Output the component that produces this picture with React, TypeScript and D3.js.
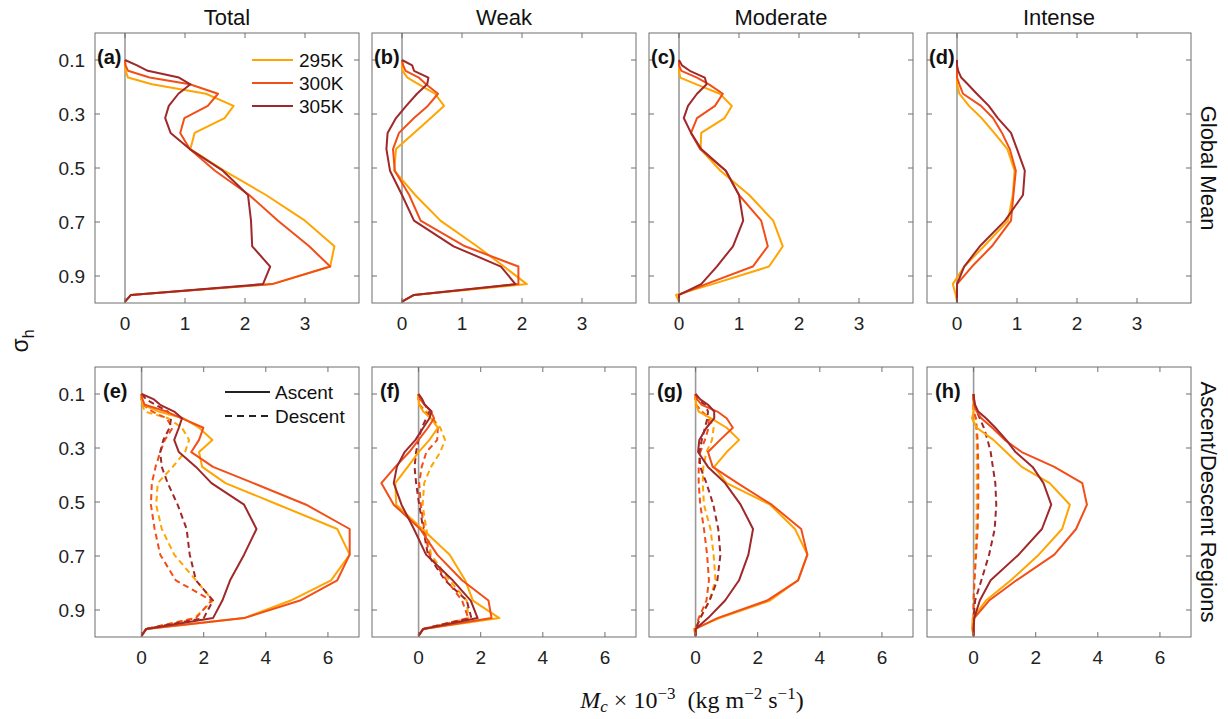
import React from 'react';
import * as d3 from 'd3';

// vertical levels (sigma_h) shared by every profile
const sigma = [0.10, 0.12, 0.14, 0.165, 0.19, 0.225, 0.27, 0.315, 0.37, 0.43, 0.51, 0.60, 0.695, 0.79, 0.865, 0.93, 0.97, 0.995];

const columnTitles = ['Total', 'Weak', 'Moderate', 'Intense'];
const rowTitles = ['Global Mean', 'Ascent/Descent Regions'];
const panelLetters = ['(a)', '(b)', '(c)', '(d)', '(e)', '(f)', '(g)', '(h)'];
const sstLabels = ['295K', '300K', '305K'];
const regimeLabels = ['Ascent', 'Descent'];
const topTicks = [0, 1, 2, 3];
const bottomTicks = [0, 2, 4, 6];
const yTicks = [0.1, 0.3, 0.5, 0.7, 0.9];

// global mean
const total295 = [0, 0, 0.01, 0.05, 0.45, 1.35, 1.81, 1.66, 1.16, 1.09, 1.65, 2.35, 3.0, 3.49, 3.42, 2.46, 0.1, 0];
const total300 = [0, 0.01, 0.05, 0.41, 1.08, 1.55, 1.38, 0.99, 0.92, 1.08, 1.5, 2.07, 2.55, 3.07, 3.42, 2.45, 0.1, 0];
const total305 = [0, 0.2, 0.38, 0.9, 1.09, 0.89, 0.73, 0.67, 0.76, 1.08, 1.63, 2.05, 2.1, 2.12, 2.42, 2.3, 0.1, 0];
const weak295 = [0, 0, 0.01, 0.09, 0.28, 0.55, 0.7, 0.48, 0.2, -0.1, -0.13, 0.22, 0.64, 1.25, 1.7, 2.08, 0.2, 0];
const weak300 = [0, 0.02, 0.06, 0.28, 0.4, 0.6, 0.43, 0.2, -0.05, -0.15, -0.12, 0.12, 0.31, 1.05, 1.94, 1.94, 0.2, 0];
const weak305 = [0, 0.17, 0.2, 0.44, 0.42, 0.25, 0.07, -0.1, -0.24, -0.26, -0.2, 0.0, 0.2, 0.86, 1.65, 1.89, 0.2, 0];
const mod295 = [0, 0, 0, 0.02, 0.29, 0.68, 0.88, 0.76, 0.37, 0.36, 0.69, 1.17, 1.57, 1.73, 1.5, 0.56, -0.05, 0];
const mod300 = [0, 0, 0.04, 0.3, 0.5, 0.73, 0.6, 0.3, 0.2, 0.35, 0.78, 1.0, 1.37, 1.48, 1.23, 0.45, 0, 0];
const mod305 = [0, 0.05, 0.18, 0.43, 0.46, 0.3, 0.15, 0.08, 0.2, 0.37, 0.78, 1.0, 1.07, 0.9, 0.63, 0.37, 0, 0];
const int295 = [0, 0, 0, 0, 0, 0.04, 0.2, 0.41, 0.62, 0.84, 0.96, 0.93, 0.85, 0.45, 0.12, -0.07, -0.02, 0];
const int300 = [0, 0, 0, 0, 0.04, 0.1, 0.4, 0.6, 0.75, 0.88, 0.98, 0.94, 0.9, 0.58, 0.25, 0, 0, 0];
const int305 = [0, 0, 0.02, 0.07, 0.18, 0.33, 0.53, 0.68, 0.9, 1.0, 1.13, 1.1, 0.8, 0.38, 0.12, 0, 0, 0];

// ascent / descent regions
const totalAsc295 = [0, 0, 0.05, 0.55, 1.35, 1.85, 2.28, 1.85, 1.95, 2.7, 4.4, 6.3, 6.7, 6.1, 4.8, 3.3, 0.15, 0];
const totalAsc300 = [0, 0.03, 0.1, 0.8, 1.3, 1.99, 1.85, 1.6, 2.3, 3.6, 5.3, 6.7, 6.7, 6.3, 5.1, 3.3, 0.15, 0];
const totalAsc305 = [0, 0.4, 0.6, 1.05, 1.3, 1.2, 1.05, 1.2, 1.75, 2.25, 3.3, 3.7, 3.3, 2.85, 2.6, 2.3, 0.15, 0];
const totalDes295 = [0, 0, 0.03, 0.1, 0.85, 1.3, 1.53, 1.4, 1.0, 0.52, 0.47, 0.65, 1.05, 1.75, 2.3, 1.7, 0.15, 0];
const totalDes300 = [0, 0, 0.05, 0.35, 0.8, 1.0, 0.75, 0.6, 0.45, 0.33, 0.3, 0.42, 0.6, 1.1, 2.25, 1.75, 0.15, 0];
const totalDes305 = [0, 0.15, 0.45, 0.85, 0.95, 0.9, 0.7, 0.6, 0.65, 0.84, 1.16, 1.45, 1.55, 1.75, 2.3, 2.0, 0.15, 0];
const weakAsc295 = [0, 0, 0.02, 0.15, 0.4, 0.62, 0.35, 0.0, -0.35, -0.75, -0.72, 0.12, 1.0, 1.5, 1.75, 2.6, 0.15, 0];
const weakAsc300 = [0, 0.05, 0.2, 0.4, 0.5, 0.3, 0.0, -0.3, -0.75, -1.2, -0.8, 0.05, 0.6, 1.4, 2.25, 2.35, 0.15, 0];
const weakAsc305 = [0, 0.12, 0.2, 0.42, 0.35, 0.15, -0.1, -0.45, -0.7, -0.8, -0.55, -0.15, 0.24, 1.1, 1.68, 1.9, 0.15, 0];
const weakDes295 = [0, 0, 0.02, 0.25, 0.45, 0.7, 0.85, 0.7, 0.4, 0.18, 0.13, 0.25, 0.4, 1.0, 1.55, 1.6, 0.15, 0];
const weakDes300 = [0, 0, 0.03, 0.2, 0.45, 0.62, 0.6, 0.25, 0.1, 0.02, 0.07, 0.18, 0.35, 0.9, 1.4, 1.6, 0.15, 0];
const weakDes305 = [0, 0.05, 0.2, 0.35, 0.25, 0.1, 0.0, -0.08, -0.13, -0.08, 0.02, 0.15, 0.3, 0.85, 1.55, 1.7, 0.15, 0];
const modAsc295 = [0, 0, 0.02, 0.1, 0.5, 1.0, 1.4, 1.0, 0.6, 1.0, 2.4, 3.2, 3.6, 3.3, 2.4, 0.77, -0.05, 0];
const modAsc300 = [0, 0.05, 0.2, 0.7, 1.0, 1.2, 0.79, 0.4, 0.55, 1.35, 2.45, 3.4, 3.6, 3.3, 2.3, 0.7, 0, 0];
const modAsc305 = [0, 0.15, 0.4, 0.6, 0.6, 0.35, 0.12, 0.08, 0.4, 0.95, 1.45, 1.85, 1.7, 1.4, 0.95, 0.4, 0, 0];
const modDes295 = [0, 0, 0, 0.2, 0.45, 0.58, 0.53, 0.35, 0.25, 0.23, 0.27, 0.48, 0.58, 0.64, 0.45, 0.15, 0, 0];
const modDes300 = [0, 0, 0.02, 0.2, 0.42, 0.42, 0.3, 0.15, 0.1, 0.1, 0.15, 0.27, 0.37, 0.43, 0.35, 0.1, 0, 0];
const modDes305 = [0, 0.05, 0.3, 0.4, 0.38, 0.3, 0.2, 0.12, 0.15, 0.35, 0.57, 0.73, 0.8, 0.7, 0.45, 0.15, 0, 0];
const intAsc295 = [0, 0, 0, 0, -0.05, 0.1, 0.64, 1.05, 1.55, 2.45, 3.1, 2.85, 2.1, 1.2, 0.4, -0.03, -0.05, 0];
const intAsc300 = [0, 0, 0.02, 0.1, 0.25, 0.6, 1.0, 1.55, 2.6, 3.5, 3.65, 3.3, 2.6, 1.38, 0.5, 0.02, 0, 0];
const intAsc305 = [0, 0.02, 0.05, 0.15, 0.4, 0.7, 1.05, 1.35, 1.9, 2.25, 2.5, 2.2, 1.45, 0.55, 0.2, 0.02, 0, 0];
const intDes295 = [0, 0, 0, 0, 0.05, 0.08, 0.1, 0.1, 0.1, 0.1, 0.1, 0.09, 0.05, 0.02, 0, 0, 0, 0];
const intDes300 = [0, 0, 0, 0, 0.08, 0.1, 0.13, 0.14, 0.15, 0.15, 0.15, 0.13, 0.08, 0.03, 0, 0, 0, 0];
const intDes305 = [0, 0, 0.03, 0.1, 0.2, 0.33, 0.45, 0.55, 0.62, 0.7, 0.73, 0.68, 0.5, 0.25, 0.05, 0, 0, 0];

const colors = ['#ffa400', '#f24e18', '#a0282a'];
const FONT = '"Liberation Sans", Arial, Helvetica, sans-serif';

const W = 1228, H = 719;
const colLeft = [95, 372, 649, 927];
const panelW = 264;
const rowTop = [33, 367];
const panelH = 270;

type Series = { values: number[]; color: string; dashed: boolean };

const topPanels: Series[][] = [
  [total295, total300, total305],
  [weak295, weak300, weak305],
  [mod295, mod300, mod305],
  [int295, int300, int305],
].map(group => group.map((values, i) => ({ values, color: colors[i], dashed: false })));

const bottomPanels: Series[][] = [
  [[totalAsc295, totalAsc300, totalAsc305], [totalDes295, totalDes300, totalDes305]],
  [[weakAsc295, weakAsc300, weakAsc305], [weakDes295, weakDes300, weakDes305]],
  [[modAsc295, modAsc300, modAsc305], [modDes295, modDes300, modDes305]],
  [[intAsc295, intAsc300, intAsc305], [intDes295, intDes300, intDes305]],
].map(([asc, des]) => [
  ...des.map((values, i) => ({ values, color: colors[i], dashed: true })),
  ...asc.map((values, i) => ({ values, color: colors[i], dashed: false })),
]);

const Panel = ({ row, col, series }: { row: number; col: number; series: Series[] }) => {
  const x0 = colLeft[col];
  const y0 = rowTop[row];
  const x = d3.scaleLinear().domain(row === 0 ? [-0.5, 3.9] : [-1.5, 7]).range([x0, x0 + panelW]);
  const y = d3.scaleLinear().domain([0, 1]).range([y0, y0 + panelH]);
  const ticks = row === 0 ? topTicks : bottomTicks;
  const line = d3.line<number>().x(d => x(d)).y((_, i) => y(sigma[i]));
  const axisColor = '#6f6f6f';
  const tl = 5;

  return (
    <g>
      <clipPath id={`clip-${row}-${col}`}>
        <rect x={x0} y={y0} width={panelW} height={panelH} />
      </clipPath>
      <rect x={x0} y={y0} width={panelW} height={panelH} fill="#fff" />
      <line x1={x(0)} x2={x(0)} y1={y0} y2={y0 + panelH} stroke="#9a9a9a" strokeWidth={1.6} />
      <g clipPath={`url(#clip-${row}-${col})`}>
        {series.map((s, i) => (
          <path key={i} d={line(s.values) || ''} fill="none" stroke={s.color} strokeWidth={2}
            strokeDasharray={s.dashed ? '6,4' : undefined} strokeLinejoin="round" />
        ))}
      </g>
      {/* ticks inside on all four sides */}
      {ticks.map(t => (
        <g key={`xt${t}`}>
          <line x1={x(t)} x2={x(t)} y1={y0 + panelH} y2={y0 + panelH - tl} stroke={axisColor} />
          <line x1={x(t)} x2={x(t)} y1={y0} y2={y0 + tl} stroke={axisColor} />
          <text x={x(t)} y={y0 + panelH + 27} textAnchor="middle" fontSize={19} fontFamily={FONT} fill="#222">{t}</text>
        </g>
      ))}
      {yTicks.map(t => (
        <g key={`yt${t}`}>
          <line x1={x0} x2={x0 + tl} y1={y(t)} y2={y(t)} stroke={axisColor} />
          <line x1={x0 + panelW} x2={x0 + panelW - tl} y1={y(t)} y2={y(t)} stroke={axisColor} />
          {col === 0 && (
            <text x={x0 - 10} y={y(t)} dy="0.36em" textAnchor="end" fontSize={19} fontFamily={FONT} fill="#222">{t}</text>
          )}
        </g>
      ))}
      <rect x={x0} y={y0} width={panelW} height={panelH} fill="none" stroke={axisColor} strokeWidth={1} />
      <text x={x0 + (row === 0 ? 2 : 8)} y={y0 + 31} fontSize={20} fontWeight="bold" fontFamily={FONT} fill="#111">
        {panelLetters[row * 4 + col]}
      </text>
    </g>
  );
};

const App = () => {
  const legendA = { x: colLeft[0] + 157, y: 60, step: 23 };
  const legendE = { x: colLeft[0] + 130, y: 392, step: 24 };
  return (
    <svg width={W} height={H} style={{ position: 'absolute', left: 0, top: 0, background: '#fff' }}>
      {columnTitles.map((t, i) => (
        <text key={t} x={colLeft[i] + panelW / 2} y={25} textAnchor="middle" fontSize={22} fontFamily={FONT} fill="#111">{t}</text>
      ))}
      {topPanels.map((s, col) => <Panel key={`t${col}`} row={0} col={col} series={s} />)}
      {bottomPanels.map((s, col) => <Panel key={`b${col}`} row={1} col={col} series={s} />)}

      {/* legend (a) */}
      {sstLabels.map((lab, i) => (
        <g key={lab}>
          <line x1={legendA.x} x2={legendA.x + 41} y1={legendA.y + i * legendA.step} y2={legendA.y + i * legendA.step}
            stroke={colors[i]} strokeWidth={2} />
          <text x={legendA.x + 47} y={legendA.y + i * legendA.step} dy="0.36em" fontSize={19} fontFamily={FONT} fill="#111">{lab}</text>
        </g>
      ))}
      {/* legend (e) */}
      {regimeLabels.map((lab, i) => (
        <g key={lab}>
          <line x1={legendE.x} x2={legendE.x + 45} y1={legendE.y + i * legendE.step} y2={legendE.y + i * legendE.step}
            stroke="#222" strokeWidth={2} strokeDasharray={i === 1 ? '7,5' : undefined} />
          <text x={legendE.x + 50} y={legendE.y + i * legendE.step} dy="0.36em" fontSize={19} fontFamily={FONT} fill="#111">{lab}</text>
        </g>
      ))}

      {/* row labels on the right */}
      {rowTitles.map((t, i) => (
        <text key={t} transform={`translate(1201,${rowTop[i] + panelH / 2}) rotate(90)`} textAnchor="middle"
          fontSize={22} fontFamily={FONT} fill="#111">{t}</text>
      ))}

      {/* y label */}
      <text transform="translate(28,341) rotate(-90)" textAnchor="middle" fontSize={23} fontFamily={FONT} fill="#111">
        σ<tspan fontSize={16} dy={6}>h</tspan>
      </text>

      {/* x label */}
      <text x={692} y={708} textAnchor="middle" fontSize={24} fontFamily='"Liberation Serif", "DejaVu Serif", serif' fill="#111">
        <tspan fontStyle="italic">M</tspan>
        <tspan fontStyle="italic" fontSize={17} dy={4}>c</tspan>
        <tspan dy={-4}>{'\u00a0×\u00a010'}</tspan>
        <tspan fontSize={17} dy={-9}>−3</tspan>
        <tspan dy={9}>{'\u00a0\u00a0(kg\u00a0m'}</tspan>
        <tspan fontSize={17} dy={-9}>−2</tspan>
        <tspan dy={9}>{'\u00a0s'}</tspan>
        <tspan fontSize={17} dy={-9}>−1</tspan>
        <tspan dy={9}>)</tspan>
      </text>
    </svg>
  );
};

export default App;
